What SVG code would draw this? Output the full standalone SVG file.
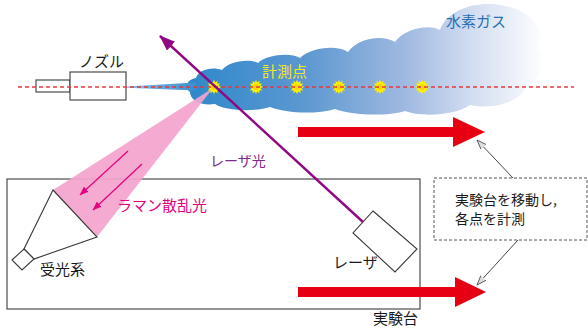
<svg xmlns="http://www.w3.org/2000/svg" width="588" height="328" viewBox="0 0 588 328">
  <style>
    .jp { font-family: "Noto Sans CJK JP", "Noto Sans", sans-serif; }
    .outline { fill: #ffffff; stroke: #3a3a3a; stroke-width: 1.1; }
    .red-arrow { fill: #e60012; }
    .leader { stroke: #333333; stroke-width: 0.9; fill: none; }
  </style>
  <defs>
    <linearGradient id="gasFill" gradientUnits="userSpaceOnUse" x1="188" y1="0" x2="545" y2="0">
      <stop offset="0" stop-color="#2e88ca"/>
      <stop offset="0.33" stop-color="#5d98d1"/>
      <stop offset="0.6" stop-color="#9db8e0"/>
      <stop offset="0.8" stop-color="#d3def1"/>
      <stop offset="1" stop-color="#ffffff"/>
    </linearGradient>
    <linearGradient id="jetFill" gradientUnits="userSpaceOnUse" x1="126" y1="0" x2="196" y2="0">
      <stop offset="0" stop-color="#8cc3ea"/>
      <stop offset="1" stop-color="#3a8fce"/>
    </linearGradient>
    <g id="burst">
      <path transform="scale(1.2)" d="M6 0 L3.67 0.98 L5.2 3 L2.69 2.69 L3 5.2 L0.98 3.67 L0 6 L-0.98 3.67 L-3 5.2 L-2.69 2.69 L-5.2 3 L-3.67 0.98 L-6 0 L-3.67 -0.98 L-5.2 -3 L-2.69 -2.69 L-3 -5.2 L-0.98 -3.67 L0 -6 L0.98 -3.67 L3 -5.2 L2.69 -2.69 L5.2 -3 L3.67 -0.98 Z" fill="#fff100"/>
      <circle r="3" fill="#f9d800"/>
    </g>
    <marker id="purpleHead" viewBox="0 0 16 12" refX="15" refY="6" markerWidth="16" markerHeight="12" markerUnits="userSpaceOnUse" orient="auto">
      <path d="M0 0 L16 6 L0 12 Z" fill="#920783"/>
    </marker>
    <marker id="pinkHead" viewBox="0 0 9 7" refX="8.5" refY="3.5" markerWidth="9" markerHeight="7" markerUnits="userSpaceOnUse" orient="auto">
      <path d="M0 0 L9 3.5 L0 7 Z" fill="#e4007f"/>
    </marker>
    <marker id="openHead" viewBox="0 0 10 8" refX="9.5" refY="4" markerWidth="10" markerHeight="8" markerUnits="userSpaceOnUse" orient="auto">
      <path d="M0 0.5 L9.5 4 L0 7.5" fill="#dddddd" stroke="#444444" stroke-width="0.8"/>
    </marker>
  </defs>

  <!-- experiment table -->
  <g id="table">
    <rect x="7" y="179" width="413" height="130" fill="none" stroke="#4d4d4d" stroke-width="1.2"/>
    <text class="jp" x="373" y="324" font-size="15" fill="#1a1a1a">実験台</text>
  </g>

  <!-- hydrogen gas plume -->
  <g id="gas-cloud">
    <path d="M190 92 C184 88 186 80 196 78 C198 70 212 66 222 70 C228 62 248 58 258 63 C266 55 290 52 300 58 C310 48 336 44 348 52 C358 38 382 34 395 42 C405 28 430 24 440 30 C448 8 480 0 505 6 C530 10 548 30 537 48 C550 60 542 80 527 86 C520 102 495 110 470 105 C455 116 420 117 405 111 C385 117 350 115 335 109 C315 115 285 113 270 107 C255 112 225 111 215 104 C200 106 190 100 190 92 Z" fill="url(#gasFill)"/>
    <text class="jp" x="446" y="27" font-size="15" fill="#2a6fb5">水素ガス</text>
  </g>

  <!-- nozzle and jet -->
  <g id="nozzle">
    <rect class="outline" x="36" y="80" width="34" height="12"/>
    <rect class="outline" x="70" y="72" width="56" height="28"/>
    <path d="M126 86.5 L196 82.5 L196 90.5 L126 87.7 Z" fill="url(#jetFill)"/>
    <text class="jp" x="79" y="67" font-size="15" fill="#1a1a1a">ノズル</text>
  </g>

  <!-- raman scattered light -->
  <g id="raman">
    <path d="M213 88 L53 190 L97 237 Z" fill="#f4a3cd" fill-opacity="0.92"/>
    <text class="jp" x="117" y="211" font-size="15" fill="#e4007f">ラマン散乱光</text>
  </g>

  <!-- measurement points -->
  <g id="measure-points">
    <use href="#burst" x="214" y="87"/>
    <use href="#burst" x="256" y="87"/>
    <use href="#burst" x="297" y="87"/>
    <use href="#burst" x="339" y="87"/>
    <use href="#burst" x="380" y="87"/>
    <use href="#burst" x="422" y="87"/>
    <line x1="18" y1="87" x2="574" y2="87" stroke="#e8383d" stroke-width="1.3" stroke-dasharray="4 3"/>
    <text class="jp" x="262" y="77" font-size="15" fill="#f5e81c">計測点</text>
  </g>

  <!-- light receiver -->
  <g id="receiver">
    <path class="outline" d="M53 190 L97 237 L34 259 L24 249 Z" fill="none"/>
    <path class="outline" d="M24 249 L34 259 L22 270 L12 260 Z"/>
    <text class="jp" x="40" y="275" font-size="15" fill="#1a1a1a">受光系</text>
  </g>

  <!-- laser -->
  <g id="laser">
    <path class="outline" d="M373 211 L417 249 L395 272 L353 233 Z"/>
    <text class="jp" x="333" y="268" font-size="15" fill="#1a1a1a">レーザ</text>
  </g>

  <!-- table movement arrows -->
  <g id="move-arrows">
    <path class="red-arrow" d="M298 127 L453 127 L453 117 L485 132 L453 147 L453 137 L298 137 Z"/>
    <path class="red-arrow" d="M298 287 L455 287 L455 277 L486 292 L455 307 L455 297 L298 297 Z"/>
  </g>

  <!-- note -->
  <g id="callout">
    <rect x="434" y="178" width="153" height="62" fill="#ffffff" stroke="#555555" stroke-width="1" stroke-dasharray="3 2"/>
    <text class="jp" font-size="14" fill="#1a1a1a">
      <tspan x="455" y="205">実験台を移動し,</tspan>
      <tspan x="455" y="224">各点を計測</tspan>
    </text>
  </g>

  <!-- connectors -->
  <g id="connectors">
    <line x1="363" y1="222" x2="160" y2="36" stroke="#920783" stroke-width="2.4" marker-end="url(#purpleHead)"/>
    <line x1="128" y1="151" x2="80" y2="195" stroke="#e4007f" stroke-width="1.2" marker-end="url(#pinkHead)"/>
    <line x1="142" y1="164" x2="93" y2="210" stroke="#e4007f" stroke-width="1.2" marker-end="url(#pinkHead)"/>
    <line class="leader" x1="513" y1="178" x2="477" y2="140" marker-end="url(#openHead)"/>
    <line class="leader" x1="518" y1="240" x2="477" y2="285" marker-end="url(#openHead)"/>
  </g>

  <text class="jp" x="210" y="166" font-size="14" fill="#7d2a8c">レーザ光</text>
</svg>
